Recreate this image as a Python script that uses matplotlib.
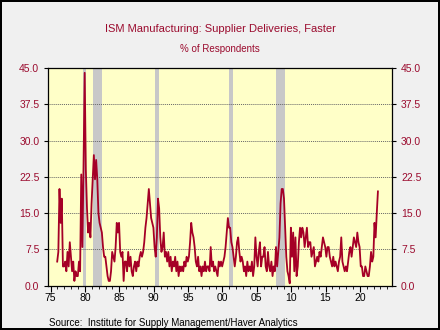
import numpy as np
import matplotlib
matplotlib.use("Agg")
import matplotlib.pyplot as plt
from matplotlib.ticker import MultipleLocator, FormatStrFormatter

plt.rcParams['font.family'] = ['Liberation Sans', 'DejaVu Sans']

# Supplier deliveries, faster (% of respondents), read roughly every 2 months
start_year = 1975.96
step = 1 / 6
values = [
    5, 7, 20, 13, 18, 4,        # 1976
    4, 5, 3, 7, 4, 9,           # 1977
    6, 3, 5, 1, 3, 2,           # 1978
    2, 5, 3, 23, 8, 25,         # 1979
    44, 24, 16, 11, 13, 10,     # 1980
    17, 22, 27, 22, 26, 22,     # 1981
    15, 13, 12, 11, 8, 6,       # 1982
    6, 4, 2, 1, 1, 3,           # 1983
    7, 6, 5, 8, 13, 11,         # 1984
    13, 7, 6, 7, 1, 5,          # 1985
    5, 3, 7, 4, 6, 3,           # 1986
    2, 4, 5, 3, 5, 4,           # 1987
    6, 7, 6, 7, 9, 12,          # 1988
    14, 17, 20, 17, 14, 13,     # 1989
    12, 8, 6, 10, 18, 16,       # 1990
    10, 7, 8, 11, 6, 7,         # 1991
    5, 7, 4, 6, 3, 5,           # 1992
    4, 6, 3, 5, 2, 4,           # 1993
    3, 4, 3, 5, 4, 6,           # 1994
    5, 6, 9, 13, 11, 10,        # 1995
    8, 5, 4, 6, 3, 4,           # 1996
    2, 4, 3, 5, 3, 4,           # 1997
    4, 3, 8, 4, 5, 3,           # 1998
    4, 3, 2, 5, 4, 5,           # 1999
    4, 5, 6, 8, 11, 14,         # 2000
    12, 12, 9, 8, 6, 4,         # 2001
    6, 9, 10, 7, 5, 6,          # 2002
    5, 3, 4, 2, 5, 3,           # 2003
    4, 3, 5, 2, 4, 10,          # 2004
    6, 4, 7, 9, 4, 6,           # 2005
    6, 8, 4, 3, 7, 4,           # 2006
    3, 5, 2, 4, 3, 8,           # 2007
    4, 7, 10, 17, 20, 20,       # 2008
    18, 12, 6, 3, 2, 0.5,       # 2009
    12, 6, 11, 3, 10, 2,        # 2010
    4, 9, 12, 10, 12, 11,       # 2011
    8, 10, 12, 8, 9, 9,         # 2012
    6, 7, 8, 4, 5, 6,           # 2013
    5, 7, 6, 8, 10, 9,          # 2014
    8, 6, 8, 8, 6, 5,           # 2015
    4, 6, 4, 5, 4, 3,           # 2016
    5, 6, 10, 5, 4, 3,          # 2017
    4, 3, 5, 7, 8, 6,           # 2018
    8, 10, 9, 8, 11, 9,         # 2019
    8, 4, 4, 2, 2, 4,           # 2020
    3, 2, 2, 4, 7, 5,           # 2021
    6, 13, 10, 15, 19.5,        # 2022
]

# recession shading (start, end) in chart years
recessions = [(1979.66, 1980.14), (1981.2, 1982.42), (1990.23, 1990.8),
              (2001.0, 2001.5), (2007.8, 2009.1), (2019.97, 2020.08)]

title = "ISM Manufacturing: Supplier Deliveries, Faster"
subtitle = "% of Respondents"
source = "Source:  Institute for Supply Management/Haver Analytics"

red = "#9b0b2e"
line_red = "#a50026"

years = start_year + np.arange(len(values)) * step

fig = plt.figure(figsize=(4.4, 3.3), dpi=100, facecolor="#f0f0f0",
                 edgecolor="black", linewidth=1.5)
ax = fig.add_axes([0.110, 0.134, 0.781, 0.660])
ax.set_facecolor("#ffffc8")

for s, e in recessions:
    ax.axvspan(s, e, color="#c8c8c8", lw=0, zorder=1)

ax.plot(years, values, color=line_red, lw=1.3, zorder=3)

ax.set_xlim(1974.68, 2024.68)
ax.set_ylim(0, 45)
ax.yaxis.set_major_locator(MultipleLocator(7.5))
ax.yaxis.set_major_formatter(FormatStrFormatter("%.1f"))
ax.set_xticks(np.arange(1975, 2021, 5))
ax.set_xticklabels([f"{y % 100:02d}" for y in range(1975, 2021, 5)])
ax.xaxis.set_minor_locator(MultipleLocator(1))

for v in np.arange(7.5, 45, 7.5):
    ax.axhline(v, color="#666666", lw=0.7, ls=(0, (1, 1)), zorder=2)

ax.tick_params(axis="y", which="both", direction="out", length=3,
               colors="black", labelcolor=red, labelsize=7.5,
               right=True, labelright=True)
ax.tick_params(axis="x", which="major", direction="out", length=4,
               labelsize=7.5, labelcolor="black", pad=1.5)
ax.tick_params(axis="x", which="minor", direction="out", length=2)
for sp in ax.spines.values():
    sp.set_linewidth(0.9)

fig.text(0.5, 0.912, title, ha="center", va="center", color=red, fontsize=8)
fig.text(0.5, 0.851, subtitle, ha="center", va="center", color=red, fontsize=7)
fig.text(0.112, 0.022, source, ha="left", va="center", color="black", fontsize=7)

fig.savefig("out.png", dpi=100, facecolor=fig.get_facecolor(),
            edgecolor=fig.get_edgecolor())
